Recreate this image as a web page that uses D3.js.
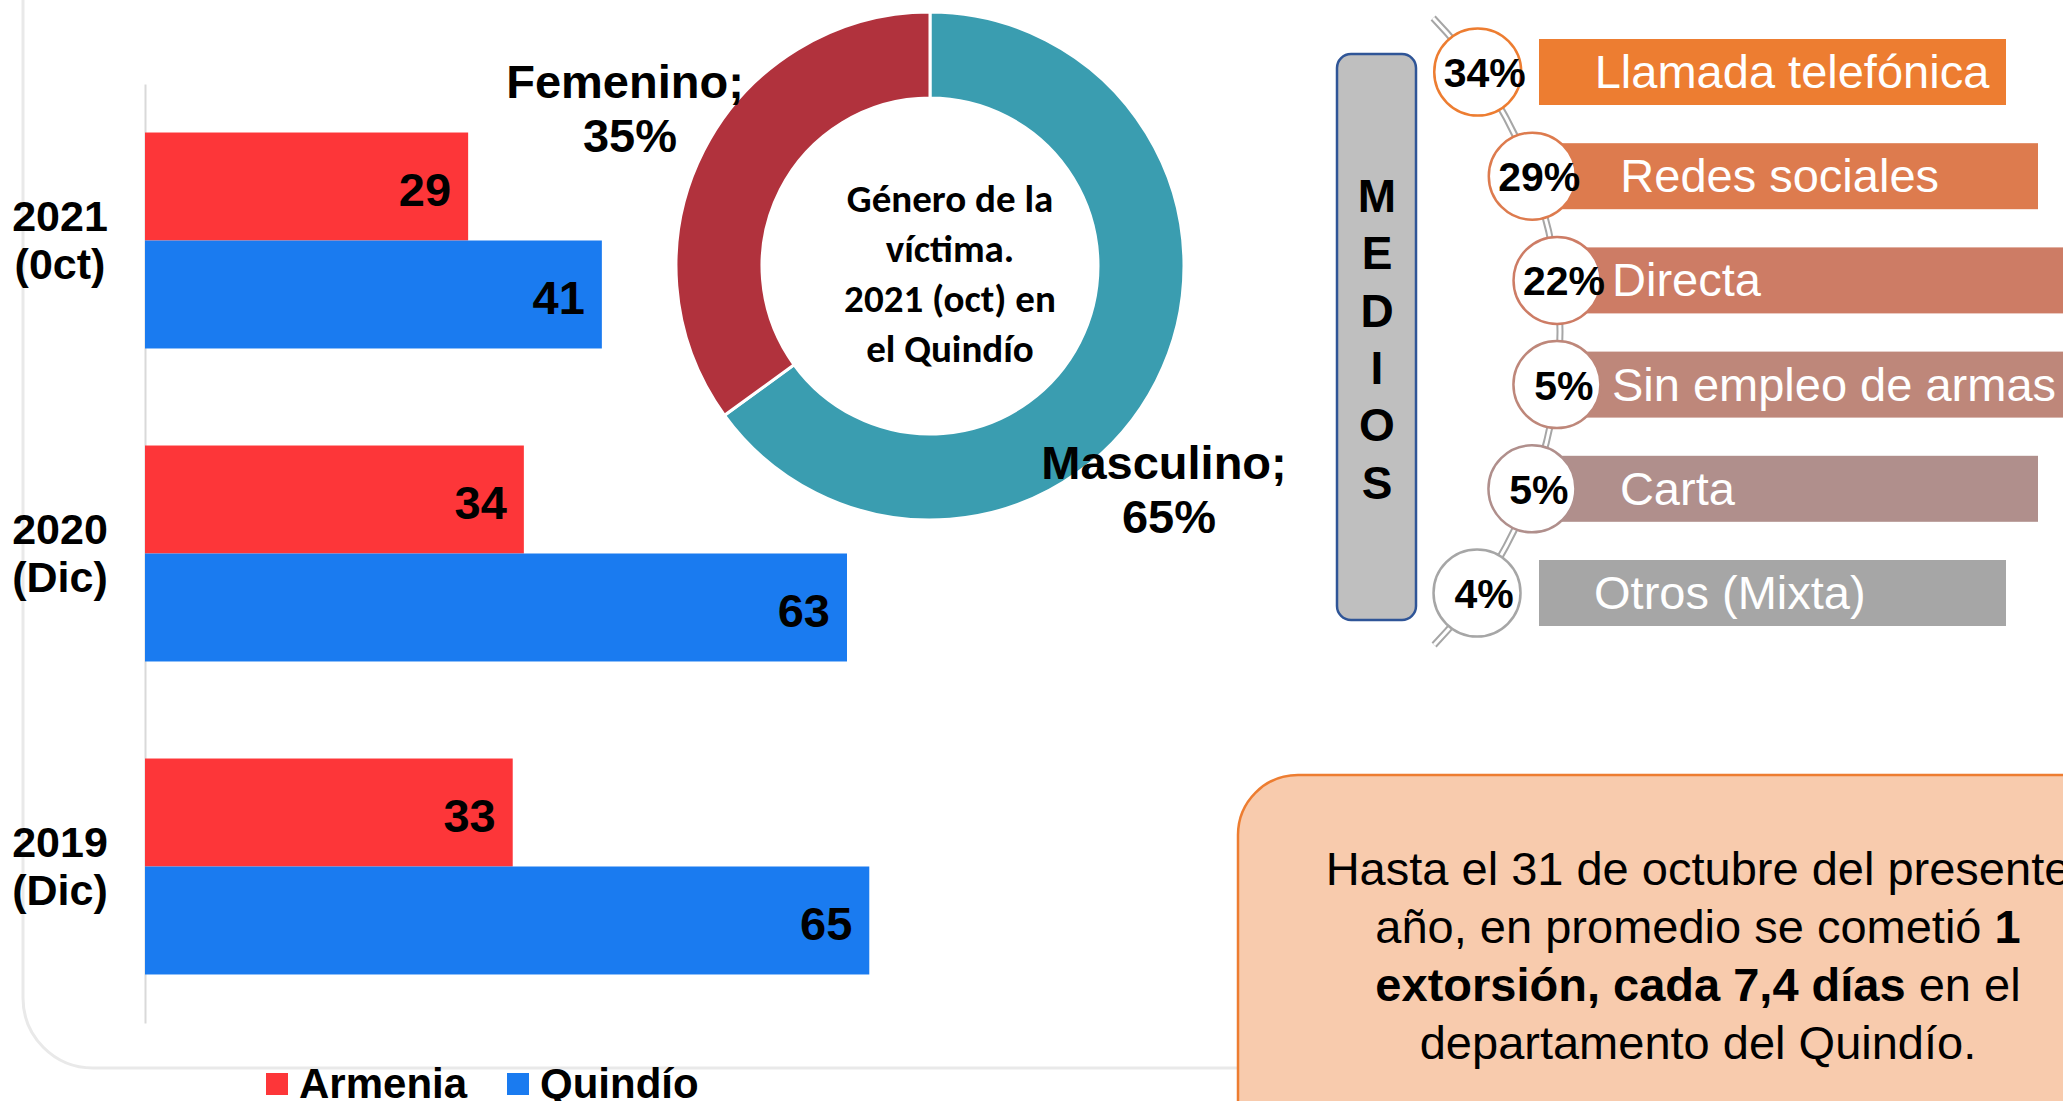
<!DOCTYPE html>
<html>
<head>
<meta charset="utf-8">
<script src="https://cdn.jsdelivr.net/npm/d3@7"></script>
<style>
  body { margin: 0; background: #fff; overflow: hidden; }
  text { font-family: "Liberation Sans", Arial, sans-serif; }
</style>
</head>
<body>
<div id="chart"></div>
<script>
// data
var categories = ["2021 (0ct)", "2020 (Dic)", "2019 (Dic)"]
var series = ["Armenia", "Quindío"]
var armenia = [29, 34, 33]
var quindio = [41, 63, 65]

var genero = ["Masculino", "Femenino"]
var generoPct = [65, 35]

var medios = ["Llamada telefónica", "Redes sociales", "Directa", "Sin empleo de armas", "Carta", "Otros (Mixta)"]
var mediosPct = [34, 29, 22, 5, 5, 4]

var width = 2063
var height = 1101

var svg = d3.select("#chart")
    .append("svg")
    .attr("width", width)
    .attr("height", height)

// faint frame behind the bar chart
svg.append("rect")
    .attr("x", 23).attr("y", -120)
    .attr("width", 2400).attr("height", 1188)
    .attr("rx", 70)
    .attr("fill", "none")
    .attr("stroke", "#e9e9e9")
    .attr("stroke-width", 3)

// ---------- bar chart ----------
var barColor = d3.scaleOrdinal().domain(series).range(["#fd3639", "#1a7bf0"])

var x = d3.scaleLinear().domain([0, 70]).range([145, 925])
var y = d3.scaleBand().domain(categories).range([84, 1023])
    .paddingInner(0.31).paddingOuter(0.155)
var ySub = d3.scaleBand().domain(series).range([0, y.bandwidth()])

svg.append("g")
    .attr("transform", "translate(145,0)")
    .call(d3.axisLeft(y).tickSize(0).tickFormat(""))
    .call(function (g) { g.select(".domain").attr("stroke", "#d9d9d9").attr("stroke-width", 2) })

var rows = categories.map(function (c, i) {
    return { cat: c, values: [{ s: series[0], v: armenia[i] }, { s: series[1], v: quindio[i] }] }
})

var grp = svg.selectAll(".grp")
    .data(rows)
    .enter()
    .append("g")
    .attr("transform", function (d) { return "translate(0," + y(d.cat) + ")" })

grp.selectAll("rect")
    .data(function (d) { return d.values })
    .enter()
    .append("rect")
    .attr("x", x(0))
    .attr("y", function (d) { return ySub(d.s) })
    .attr("width", function (d) { return x(d.v) - x(0) })
    .attr("height", ySub.bandwidth())
    .attr("fill", function (d) { return barColor(d.s) })

grp.selectAll(".val")
    .data(function (d) { return d.values })
    .enter()
    .append("text")
    .attr("x", function (d) { return x(d.v) - 17 })
    .attr("y", function (d) { return ySub(d.s) + ySub.bandwidth() / 2 + 20 })
    .attr("text-anchor", "end")
    .style("font-size", "47px")
    .style("font-weight", "bold")
    .text(function (d) { return d.v })

// category labels (two lines)
var catLab = svg.selectAll(".cat")
    .data(categories)
    .enter()
    .append("text")
    .attr("text-anchor", "middle")
    .style("font-size", "43px")
    .style("font-weight", "bold")
catLab.selectAll("tspan")
    .data(function (d) {
        var c = y(d) + y.bandwidth() / 2
        return d.split(" ").map(function (p, i) { return { t: p, y: c - 10 + i * 48 } })
    })
    .enter()
    .append("tspan")
    .attr("x", 60)
    .attr("y", function (d) { return d.y })
    .text(function (d) { return d.t })

// legend
var leg = svg.selectAll(".leg")
    .data(series)
    .enter()
    .append("g")
    .attr("transform", function (d, i) { return "translate(" + [266, 507][i] + ",1073)" })
leg.append("rect").attr("width", 22).attr("height", 22).attr("fill", function (d) { return barColor(d) })
leg.append("text").attr("x", 33).attr("y", 25)
    .style("font-size", "42px").style("font-weight", "bold")
    .text(function (d) { return d })

// ---------- donut ----------
var donutColor = d3.scaleOrdinal().domain(genero).range(["#3a9db0", "#b1323d"])
var pie = d3.pie().sort(null).value(function (d) { return d.v })
var pieData = pie(genero.map(function (g, i) { return { k: g, v: generoPct[i] } }))
var arc = d3.arc().innerRadius(168).outerRadius(254)

var donut = svg.append("g").attr("transform", "translate(930,266)")
donut.selectAll("path")
    .data(pieData)
    .enter()
    .append("path")
    .attr("d", arc)
    .attr("fill", function (d) { return donutColor(d.data.k) })
    .attr("stroke", "#fff")
    .attr("stroke-width", 3)

var centerLines = ["Género de la", "víctima.", "2021 (oct) en", "el Quindío"]
svg.append("text")
    .attr("text-anchor", "middle")
    .style("font-family", "Carlito, Lato, sans-serif")
    .style("font-size", "39px")
    .style("font-weight", "bold")
    .selectAll("tspan")
    .data(centerLines)
    .enter()
    .append("tspan")
    .attr("x", 950)
    .attr("y", function (d, i) { return 212 + i * 50 })
    .text(function (d) { return d })

// slice labels
var sliceLabPos = { "Femenino": [625, 98], "Masculino": [1164, 479] }
var sl = svg.selectAll(".slab")
    .data(pieData)
    .enter()
    .append("text")
    .attr("text-anchor", "middle")
    .style("font-size", "47px")
    .style("font-weight", "bold")
sl.append("tspan")
    .attr("x", function (d) { return sliceLabPos[d.data.k][0] })
    .attr("y", function (d) { return sliceLabPos[d.data.k][1] })
    .text(function (d) { return d.data.k + ";" })
sl.append("tspan")
    .attr("x", function (d) { return sliceLabPos[d.data.k][0] + 5 })
    .attr("y", function (d) { return sliceLabPos[d.data.k][1] + 54 })
    .text(function (d) { return d.data.v + "%" })

// ---------- medios ----------
var medColor = d3.scaleOrdinal().domain(medios)
    .range(["#ed7d31", "#dd7b4e", "#cd7c65", "#be877a", "#b08f8c", "#a6a6a6"])
var yM = d3.scalePoint().domain(medios).range([72, 593])
var railC = [1108, 332], railR = 452
function railX(yy) { return railC[0] + Math.sqrt(railR * railR - (yy - railC[1]) * (yy - railC[1])) }

// box
svg.append("rect")
    .attr("x", 1337).attr("y", 54).attr("width", 79).attr("height", 566)
    .attr("rx", 14)
    .attr("fill", "#bfbfbf").attr("stroke", "#2f5597").attr("stroke-width", 2.5)
svg.append("g").selectAll("text")
    .data("MEDIOS".split(""))
    .enter()
    .append("text")
    .attr("x", 1377)
    .attr("y", function (d, i) { return 212 + i * 57.3 })
    .attr("text-anchor", "middle")
    .style("font-size", "46px")
    .style("font-weight", "bold")
    .text(function (d) { return d })

// rail
var railPath = "M" + railX(18) + ",18 A" + railR + "," + railR + " 0 0,1 " + railX(645) + ",645"
svg.append("path").attr("d", railPath).attr("fill", "none").attr("stroke", "#a6a6a6").attr("stroke-width", 7)
svg.append("path").attr("d", railPath).attr("fill", "none").attr("stroke", "#fff").attr("stroke-width", 3)

var n = medios.length
function layer(i) { return Math.min(i, n - 1 - i) }
var barEnd = [2006, 2038, 2100]
var textOff = [117, 88, 55]

var med = svg.selectAll(".med")
    .data(medios)
    .enter()
    .append("g")

med.append("rect")
    .attr("x", function (d) { return Math.max(railX(yM(d)), 1539) })
    .attr("y", function (d) { return yM(d) - 33 })
    .attr("width", function (d, i) { return barEnd[layer(i)] - Math.max(railX(yM(d)), 1539) })
    .attr("height", 66)
    .attr("fill", function (d) { return medColor(d) })

med.append("text")
    .attr("x", function (d, i) { return railX(yM(d)) + textOff[layer(i)] })
    .attr("y", function (d) { return yM(d) + 16 })
    .attr("fill", "#fff")
    .style("font-size", "47px")
    .text(function (d) { return d })

med.append("circle")
    .attr("cx", function (d) { return railX(yM(d)) })
    .attr("cy", function (d) { return yM(d) })
    .attr("r", 43.5)
    .attr("fill", "#fff")
    .attr("stroke", function (d) { return medColor(d) })
    .attr("stroke-width", 2.5)

med.append("text")
    .attr("x", function (d) { return railX(yM(d)) + 7 })
    .attr("y", function (d) { return yM(d) + 15 })
    .attr("text-anchor", "middle")
    .style("font-size", "41px")
    .style("font-weight", "bold")
    .text(function (d, i) { return mediosPct[i] + "%" })

// ---------- text box ----------
svg.append("rect")
    .attr("x", 1238).attr("y", 775).attr("width", 940).attr("height", 420)
    .attr("rx", 60)
    .attr("fill", "#f8cbad").attr("stroke", "#ed7d31").attr("stroke-width", 2.5)

var boxLines = [
    [["Hasta el 31 de octubre del presente", false]],
    [["año, en promedio se cometió ", false], ["1", true]],
    [["extorsión, cada 7,4 días", true], [" en el", false]],
    [["departamento del Quindío.", false]]
]
var bt = svg.selectAll(".bline")
    .data(boxLines)
    .enter()
    .append("text")
    .attr("x", 1698)
    .attr("y", function (d, i) { return 885 + i * 58 })
    .attr("text-anchor", "middle")
    .style("font-size", "47px")
bt.selectAll("tspan")
    .data(function (d) { return d })
    .enter()
    .append("tspan")
    .style("font-weight", function (d) { return d[1] ? "bold" : "normal" })
    .style("white-space", "pre")
    .text(function (d) { return d[0] })
</script>
</body>
</html>
